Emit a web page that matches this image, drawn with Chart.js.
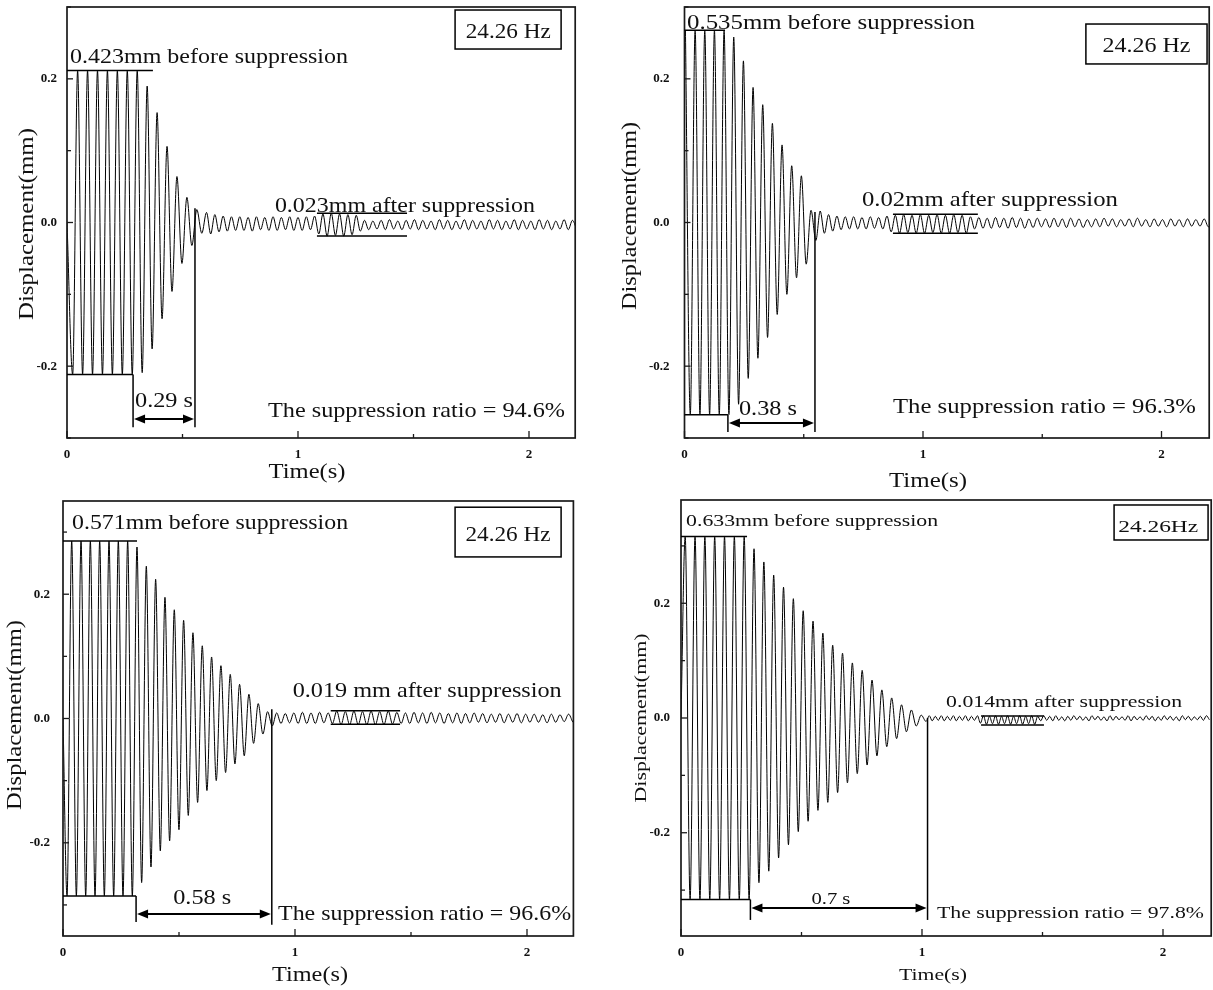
<!DOCTYPE html>
<html><head><meta charset="utf-8">
<script src="https://cdn.jsdelivr.net/npm/chart.js@4.4.1/dist/chart.umd.min.js"></script>
<style>
html,body{margin:0;padding:0;background:#fff;}
#wrap{position:relative;width:1213px;height:990px;overflow:hidden;background:#fff;}
canvas{position:absolute;left:0;top:0;}
</style></head><body><div id="wrap">
<canvas id="c0" width="1213" height="990"></canvas>
<canvas id="c1" width="1213" height="990"></canvas>
<canvas id="c2" width="1213" height="990"></canvas>
<canvas id="c3" width="1213" height="990"></canvas>
</div>
<script>
// ---------- tick labels ----------
const xTickValues = [0, 0.5, 1, 1.5, 2];
const xTickLabels = ['0', '', '1', '', '2'];
const yTickValues = [-0.3, -0.2, -0.1, 0, 0.1, 0.2, 0.3];
const yTickLabels = ['', '-0.2', '', '0.0', '', '0.2', ''];
const freqText = ['24.26 Hz', '24.26 Hz', '24.26 Hz', '24.26Hz'];
const beforeText = ['0.423mm before suppression', '0.535mm before suppression', '0.571mm before suppression', '0.633mm before suppression'];
const afterText = ['0.023mm after suppression', '0.02mm after suppression', '0.019 mm after suppression', '0.014mm after suppression'];
const ratioText = ['The suppression ratio = 94.6%', 'The suppression ratio = 96.3%', 'The suppression ratio = 96.6%', 'The suppression ratio = 97.8%'];
const timeText = ['0.29 s', '0.38 s', '0.58 s', '0.7 s'];

// ---------- series: extremum values (mm) ----------
// top-left
const tlDecay = [
 -0.2115, 0.2115, -0.2115, 0.2115, -0.2115, 0.2115, -0.2115, 0.2115,
 -0.2115, 0.2115, -0.2115, 0.2115, -0.2115, 0.2115,
 -0.209, 0.190, -0.176, 0.153, -0.134, 0.106, -0.096, 0.064,
 -0.057, 0.035, -0.032, 0.018, -0.015
];
const tlResidual = [
 0.014,-0.016, 0.011,-0.013, 0.009,-0.012, 0.008,-0.011, 0.008,-0.011,
 0.007,-0.012, 0.008,-0.010, 0.007,-0.011, 0.008,-0.011, 0.007,-0.010,
 0.008,-0.011, 0.007,-0.011, 0.008,-0.010, 0.009,-0.016, 0.012,-0.019,
 0.013,-0.018, 0.012,-0.019, 0.011,-0.017, 0.010,-0.012, 0.003,-0.010,
 0.002,-0.009, 0.003,-0.010, 0.004,-0.009, 0.002,-0.010, 0.003,-0.009,
 0.004,-0.010, 0.003,-0.009, 0.002,-0.010, 0.004,-0.009, 0.003,-0.010,
 0.002,-0.009, 0.004,-0.010, 0.003,-0.009, 0.002,-0.010, 0.004,-0.009,
 0.003,-0.010, 0.002,-0.009, 0.004,-0.010, 0.003,-0.009, 0.002,-0.010,
 0.004,-0.009, 0.003,-0.010, 0.002,-0.009, 0.004,-0.010, 0.003,-0.009
];
// top-right
const trDecay = [
 0.2675, -0.2675, 0.2675, -0.2675, 0.2675, -0.2675, 0.2675, -0.2675, 0.2675, -0.2675,
 0.258, -0.253, 0.225, -0.217, 0.188, -0.189, 0.164, -0.160, 0.138, -0.128,
 0.108, -0.100, 0.079, -0.077, 0.065, -0.058, 0.017, -0.025
];
const trResidual = [
 0.016,-0.015, 0.011,-0.012, 0.009,-0.010, 0.008,-0.009, 0.008,-0.009,
 0.007,-0.009, 0.008,-0.008, 0.007,-0.009, 0.009,-0.013, 0.010,-0.015,
 0.011,-0.014, 0.010,-0.015, 0.011,-0.015, 0.010,-0.014, 0.011,-0.015,
 0.010,-0.015, 0.011,-0.014, 0.010,-0.015, 0.008,-0.009, 0.007,-0.008,
 0.006,-0.008, 0.007,-0.007, 0.006,-0.008, 0.007,-0.007, 0.006,-0.008,
 0.005,-0.007, 0.006,-0.006, 0.005,-0.007, 0.006,-0.006, 0.005,-0.007,
 0.006,-0.006, 0.005,-0.007, 0.004,-0.006, 0.005,-0.006, 0.006,-0.005,
 0.005,-0.006, 0.004,-0.005, 0.005,-0.006, 0.006,-0.005, 0.004,-0.006,
 0.005,-0.005, 0.004,-0.006, 0.005,-0.005, 0.004,-0.006, 0.005,-0.005,
 0.004,-0.005, 0.005,-0.006, 0.004
];
// bottom-left
const blDecay = [
 -0.2855, 0.2855, -0.2855, 0.2855, -0.2855, 0.2855, -0.2855, 0.2855,
 -0.2855, 0.2855, -0.2855, 0.2855, -0.2855, 0.2855, -0.2855,
 0.276, -0.264, 0.245, -0.239, 0.224, -0.213, 0.195, -0.197, 0.175, -0.179,
 0.158, -0.156, 0.138, -0.135, 0.117, -0.116, 0.099, -0.100, 0.085, -0.087,
 0.071, -0.073, 0.055, -0.060, 0.039, -0.040, 0.024, -0.025, 0.011, -0.012
];
const blResidual = [
 0.009,-0.008, 0.008,-0.007, 0.009,-0.008, 0.010,-0.008, 0.009,-0.008,
 0.010,-0.007, 0.009,-0.008, 0.012,-0.010, 0.011,-0.010, 0.012,-0.010,
 0.011,-0.010, 0.012,-0.010, 0.011,-0.010, 0.012,-0.009, 0.010,-0.008,
 0.009,-0.008, 0.010,-0.007, 0.009,-0.008, 0.010,-0.007, 0.009,-0.008,
 0.008,-0.007, 0.009,-0.008, 0.008,-0.007, 0.009,-0.006, 0.008,-0.007,
 0.007,-0.006, 0.008,-0.007, 0.007,-0.006, 0.008,-0.007, 0.007,-0.006,
 0.007,-0.006, 0.006,-0.007, 0.007,-0.006, 0.006,-0.005, 0.007,-0.006
];
// bottom-right
const brDecay = [
 0.3165, -0.3165, 0.3165, -0.3165, 0.3165, -0.3165, 0.3165, -0.3165,
 0.3165, -0.3165, 0.3165, -0.3165, 0.3165, -0.3165,
 0.295, -0.287, 0.272, -0.267, 0.249, -0.244, 0.228, -0.221, 0.208, -0.198,
 0.187, -0.180, 0.169, -0.161, 0.148, -0.147, 0.127, -0.130, 0.113, -0.113,
 0.096, -0.097, 0.083, -0.082, 0.066, -0.066, 0.049, -0.050, 0.035, -0.036,
 0.023, -0.024, 0.014, -0.014, 0.005, -0.006
];
const brResidual = [
 0.004,-0.005, 0.003,-0.004, 0.004,-0.005, 0.003,-0.004, 0.004,-0.005,
 0.003,-0.004, 0.004,-0.005, 0.003,-0.004, 0.004,-0.009, 0.004,-0.011,
 0.003,-0.010, 0.004,-0.011, 0.003,-0.010, 0.004,-0.011, 0.003,-0.010,
 0.004,-0.011, 0.003,-0.010, 0.004,-0.011, 0.003,-0.005, 0.004,-0.004,
 0.003,-0.005, 0.004,-0.004, 0.002,-0.005, 0.003,-0.004, 0.004,-0.003,
 0.003,-0.004, 0.002,-0.005, 0.004,-0.003, 0.003,-0.004, 0.002,-0.005,
 0.004,-0.004, 0.003,-0.003, 0.002,-0.004, 0.004,-0.005, 0.003,-0.003,
 0.002,-0.004, 0.004,-0.003, 0.003,-0.005, 0.002,-0.004, 0.004,-0.003,
 0.003,-0.004, 0.002,-0.005, 0.004,-0.003, 0.003,-0.004, 0.002,-0.003,
 0.003,-0.004, 0.004,-0.003
];
// timing of the extrema (s): start value, first extremum, half period
const tlTiming = {startY: 0, decayT0: 0.0245, decayHalf: 0.0215, resT0: 0.604, resHalf: 0.018};
const trTiming = {startY: null, decayT0: 0.004, decayHalf: 0.02025, resT0: 0.569, resHalf: 0.0175};
const blTiming = {startY: 0, decayT0: 0.0174, decayHalf: 0.0201, resT0: 0.921, resHalf: 0.0185};
const brTiming = {startY: 0, decayT0: 0.0174, decayHalf: 0.0204, resT0: 1.030, resHalf: 0.0125};

function buildSeries(t, decay, resid) {
  const pts = [];
  if (t.startY !== null) pts.push({x: 0, y: t.startY});
  decay.forEach((v, i) => pts.push({x: t.decayT0 + i * t.decayHalf, y: v}));
  resid.forEach((v, i) => pts.push({x: t.resT0 + i * t.resHalf, y: v}));
  return pts;
}

// ---------- panel layout & annotations ----------
const FONT = 'Liberation Serif';
const panels = [
 { area:{l:67, r:575.2, t:7, b:438}, yMin:-0.3, yMax:0.3, yPad:10,
   pts: buildSeries(tlTiming, tlDecay, tlResidual), fs:21,
   segs:[[0,0.2115,0.372,0.2115],[0,-0.2115,0.286,-0.2115],[0.286,-0.2115,0.286,-0.285],[0.554,0.02,0.554,-0.285],
         [1.082,0.0129,1.472,0.0129],[1.082,-0.0188,1.472,-0.0188]],
   arrow:[0.286,0.554,-0.2736],
   texts:[[beforeText[0],0.013,0.2227,278,'left'],[timeText[0],0.42,-0.257,58,'center'],
          [afterText[0],0.9,0.015,260,'left'],[ratioText[0],0.87,-0.2708,297,'left']],
   box:[1.68,0.2958,2.139,0.2415], boxText:[freqText[0],1.91,0.2568,85],
   xTitle:[307,478,77], yTitle:[33,224,192] },
 { area:{l:684.5, r:1209.2, t:7, b:438}, yMin:-0.3, yMax:0.3, yPad:15,
   pts: buildSeries(trTiming, trDecay, trResidual), fs:21,
   segs:[[0,0.2675,0.17,0.2675],[0,-0.2675,0.182,-0.2675],[0.182,-0.2675,0.182,-0.2917],[0.547,0.0146,0.547,-0.2917],
         [0.874,0.0114,1.23,0.0114],[0.874,-0.0151,1.23,-0.0151]],
   arrow:[0.182,0.547,-0.279],
   texts:[[beforeText[1],0.0105,0.2694,288,'left'],[timeText[1],0.35,-0.268,58,'center'],
          [afterText[1],0.744,0.023,256,'left'],[ratioText[1],0.874,-0.265,303,'left']],
   box:[1.683,0.2763,2.191,0.2207], boxText:[freqText[1],1.937,0.2374,88],
   xTitle:[928,487,78], yTitle:[636,216,188] },
 { area:{l:63, r:573.4, t:501, b:936}, yMin:-0.35, yMax:0.35, yPad:13,
   pts: buildSeries(blTiming, blDecay, blResidual), fs:21,
   segs:[[0,0.2855,0.319,0.2855],[0,-0.2855,0.315,-0.2855],[0.315,-0.2855,0.315,-0.3275],[0.9,0.015,0.9,-0.332],
         [1.154,0.0125,1.453,0.0125],[1.154,-0.0093,1.453,-0.0093]],
   arrow:[0.315,0.9,-0.3146],
   texts:[[beforeText[2],0.039,0.305,276,'left'],[timeText[2],0.6,-0.2985,58,'center'],
          [afterText[2],0.99,0.0346,269,'left'],[ratioText[2],0.927,-0.3243,293,'left']],
   box:[1.69,0.34,2.147,0.26], boxText:[freqText[2],1.918,0.2857,85],
   xTitle:[310,981,76], yTitle:[21,715,190] },
 { area:{l:681, r:1211.2, t:500, b:936}, yMin:-0.38, yMax:0.38, yPad:11,
   pts: buildSeries(brTiming, brDecay, brResidual), fs:17,
   segs:[[0,0.3165,0.274,0.3165],[0,-0.3165,0.288,-0.3165],[0.288,-0.3165,0.288,-0.352],[1.023,0.0,1.023,-0.352],
         [1.245,0.0035,1.506,0.0035],[1.245,-0.0122,1.506,-0.0122]],
   arrow:[0.288,1.023,-0.331],
   texts:[[beforeText[3],0.021,0.3347,252,'left'],[timeText[3],0.622,-0.324,39,'center'],
          [afterText[3],1.1,0.0197,236,'left'],[ratioText[3],1.062,-0.3486,267,'left']],
   box:[1.797,0.3713,2.187,0.3103], boxText:[freqText[3],1.98,0.324,80],
   xTitle:[933,980,68], yTitle:[646,718,169] }
];

function stretchText(ctx, text, px, py, size, w, align, rot) {
  ctx.save();
  ctx.font = size + 'px "' + FONT + '"';
  const m = ctx.measureText(text).width;
  const sx = w / m;
  ctx.translate(px, py);
  if (rot) ctx.rotate(-Math.PI / 2);
  ctx.scale(sx, 1);
  ctx.textAlign = align;
  ctx.textBaseline = 'alphabetic';
  ctx.fillStyle = '#111';
  ctx.fillText(text, 0, 0);
  ctx.restore();
}

function makeAnnot(P) {
  return {
    id: 'annot',
    afterDatasetsDraw(chart) {
      const {ctx, chartArea: a, scales: {x, y}} = chart;
      const X = v => x.getPixelForValue(v), Y = v => y.getPixelForValue(v);
      const line = (x1, y1, x2, y2) => { ctx.beginPath(); ctx.moveTo(x1, y1); ctx.lineTo(x2, y2); ctx.stroke(); };
      ctx.save();
      ctx.strokeStyle = '#1a1a1a';
      ctx.lineWidth = 1.7;
      ctx.strokeRect(a.left, a.top, a.right - a.left, a.bottom - a.top);
      ctx.lineWidth = 1.3;
      xTickValues.forEach((v, i) => { const px = X(v); line(px, a.bottom, px, a.bottom - (xTickLabels[i] ? 7 : 4)); });
      yTickValues.forEach((v, i) => { if (v < y.min || v > y.max) return; const py = Y(v); line(a.left, py, a.left + (yTickLabels[i] ? 6 : 4), py); });
      ctx.strokeStyle = '#000';
      ctx.lineWidth = 1.5;
      P.segs.forEach(s => line(X(s[0]), Y(s[1]), X(s[2]), Y(s[3])));
      // double arrow
      const [ax1, ax2, ay] = P.arrow;
      const p1 = X(ax1), p2 = X(ax2), py = Y(ay);
      ctx.lineWidth = 2;
      line(p1 + 4, py, p2 - 4, py);
      ctx.fillStyle = '#000';
      ctx.beginPath(); ctx.moveTo(p1 + 1, py); ctx.lineTo(p1 + 12, py - 4.5); ctx.lineTo(p1 + 12, py + 4.5); ctx.closePath(); ctx.fill();
      ctx.beginPath(); ctx.moveTo(p2 - 1, py); ctx.lineTo(p2 - 12, py - 4.5); ctx.lineTo(p2 - 12, py + 4.5); ctx.closePath(); ctx.fill();
      // box
      const b = P.box;
      ctx.lineWidth = 1.5;
      ctx.strokeRect(X(b[0]), Y(b[1]), X(b[2]) - X(b[0]), Y(b[3]) - Y(b[1]));
      stretchText(ctx, P.boxText[0], X(P.boxText[1]), Y(P.boxText[2]), P.fs, P.boxText[3], 'center');
      P.texts.forEach(t => stretchText(ctx, t[0], X(t[1]), Y(t[2]), P.fs, t[3], t[4]));
      // axis titles
      stretchText(ctx, 'Time(s)', P.xTitle[0], P.xTitle[1], P.fs, P.xTitle[2], 'center');
      stretchText(ctx, 'Displacement(mm)', P.yTitle[0], P.yTitle[1], P.fs, P.yTitle[2], 'center', true);
      ctx.restore();
    }
  };
}

const YW = 60, XH = 40;
function zeroPad(s) { s.paddingTop = 0; s.paddingBottom = 0; s.paddingLeft = 0; s.paddingRight = 0; }
panels.forEach((P, i) => {
  new Chart(document.getElementById('c' + i), {
    type: 'line',
    data: { datasets: [{ data: P.pts, borderColor: '#000', borderWidth: 1, pointRadius: 0,
                         cubicInterpolationMode: 'monotone', fill: false }] },
    options: {
      responsive: false, animation: false, devicePixelRatio: 1, events: [],
      parsing: false,
      layout: { padding: { left: P.area.l - YW, right: 1213 - P.area.r, top: P.area.t, bottom: 990 - P.area.b - XH } },
      plugins: { legend: { display: false }, tooltip: { enabled: false } },
      scales: {
        x: { type: 'linear', min: 0, max: 2.2,
             grid: { display: false, drawTicks: false }, border: { display: false },
             afterBuildTicks: s => { s.ticks = xTickValues.map(v => ({ value: v })); },
             afterFit: s => { s.height = XH; zeroPad(s); },
             ticks: { autoSkip: false, maxRotation: 0, padding: 9, color: '#111',
                      font: { family: FONT, weight: 'bold', size: 13 },
                      callback: v => { const k = xTickValues.indexOf(v); return k >= 0 ? xTickLabels[k] : ''; } } },
        y: { type: 'linear', min: P.yMin, max: P.yMax,
             grid: { display: false, drawTicks: false }, border: { display: false },
             afterBuildTicks: s => { s.ticks = yTickValues.filter(v => v >= P.yMin && v <= P.yMax).map(v => ({ value: v })); },
             afterFit: s => { s.width = YW; zeroPad(s); },
             ticks: { autoSkip: false, padding: P.yPad, color: '#111',
                      font: { family: FONT, weight: 'bold', size: 13 },
                      callback: v => { const k = yTickValues.indexOf(v); return k >= 0 ? yTickLabels[k] : ''; } } }
      }
    },
    plugins: [makeAnnot(P)]
  });
});
</script>
</body></html>
